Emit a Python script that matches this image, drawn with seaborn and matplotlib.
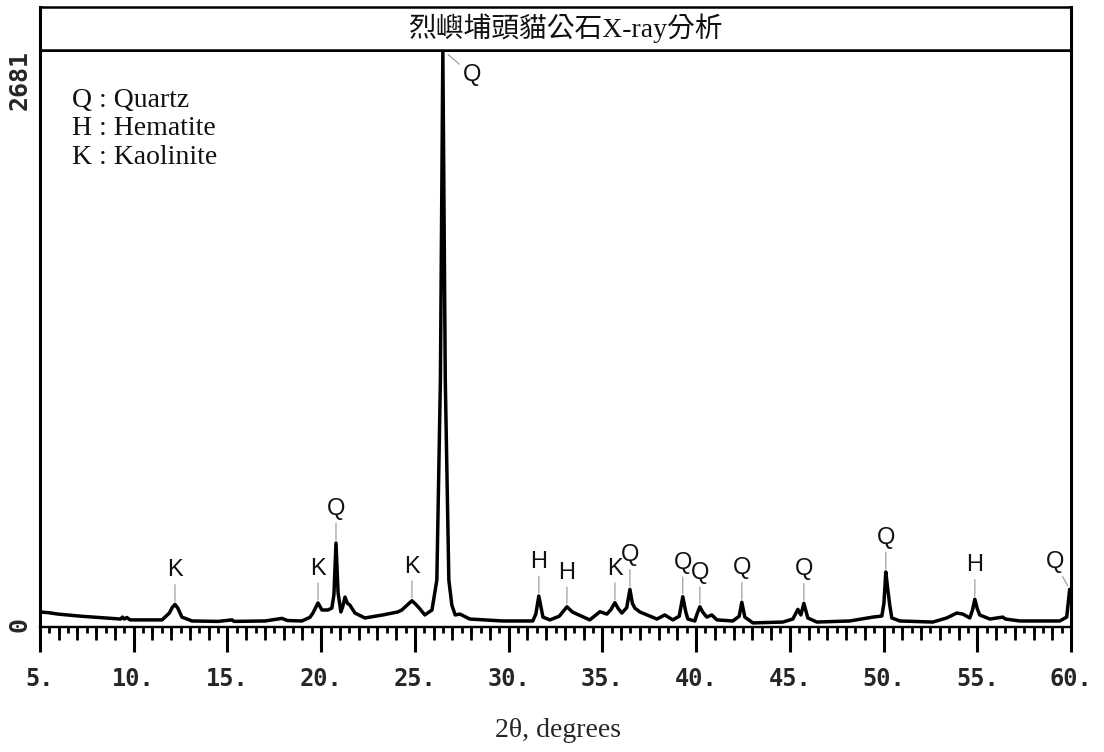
import numpy as np
import pandas as pd
import matplotlib
matplotlib.use('Agg')
import matplotlib.pyplot as plt
from matplotlib.ticker import MultipleLocator
import seaborn as sns

# ---------------- data ----------------
title = '烈嶼埔頭貓公石X-ray分析'
x_label = '2θ, degrees'
y_max = 2681

two_theta = [5.00, 5.50, 5.96, 7.20, 8.50, 9.30, 9.40, 9.50, 9.64, 9.80,
             11.00, 11.51, 11.90, 12.05, 12.20, 12.35, 12.57, 13.11, 14.50, 15.24,
             15.35, 17.00, 17.91, 18.20, 18.97, 19.40, 19.56, 19.83, 20.04, 20.36,
             20.57, 20.68, 20.79, 20.90, 21.05, 21.15, 21.27, 21.40, 21.53, 21.80,
             22.33, 23.29, 24.09, 24.30, 24.84, 25.05, 25.27, 25.53, 25.91, 26.17,
             26.36, 26.49, 26.62, 26.81, 26.97, 27.15, 27.40, 27.93, 29.69, 31.29,
             31.45, 31.61, 31.75, 31.83, 32.20, 32.70, 33.11, 33.40, 33.64, 34.33,
             34.87, 35.24, 35.45, 35.67, 35.85, 36.04, 36.30, 36.47, 36.60, 36.73,
             37.00, 37.53, 37.91, 38.33, 38.76, 39.10, 39.29, 39.45, 39.56, 39.93,
             40.05, 40.20, 40.35, 40.57, 40.84, 41.11, 41.96, 42.30, 42.44, 42.60,
             43.03, 44.63, 45.16, 45.43, 45.59, 45.75, 45.96, 46.44, 48.20, 49.43,
             49.91, 50.02, 50.12, 50.23, 50.33, 50.44, 50.87, 52.63, 53.37, 53.91,
             54.23, 54.60, 54.75, 54.87, 55.00, 55.13, 55.67, 56.36, 56.50, 57.27,
             59.40, 59.77, 59.93]
intensity = [70, 66, 60, 50, 42, 37, 46, 37, 44, 33,
             33, 33, 65, 90, 105, 88, 46, 28, 26, 33,
             26, 28, 40, 30, 28, 45, 65, 112, 79, 79,
             88, 150, 390, 160, 70, 95, 139, 110, 102, 65,
             42, 56, 70, 79, 122, 105, 84, 56, 79, 218,
             1150, 2681, 1150, 218, 102, 56, 60, 37, 28, 28,
             60, 144, 80, 46, 33, 50, 94, 70, 60, 33,
             71, 60, 80, 113, 85, 65, 90, 175, 110, 88,
             70, 51, 37, 56, 33, 50, 141, 70, 37, 28,
             60, 94, 70, 46, 56, 33, 28, 50, 115, 46,
             19, 23, 37, 82, 56, 110, 42, 23, 28, 46,
             51, 110, 256, 172, 102, 42, 28, 23, 42, 65,
             60, 42, 80, 129, 85, 56, 37, 46, 37, 28,
             28, 46, 175]

x_ticks = [5, 10, 15, 20, 25, 30, 35, 40, 45, 50, 55, 60]
x_tick_labels = ['5.', '10.', '15.', '20.', '25.', '30.', '35.', '40.',
                 '45.', '50.', '55.', '60.']

peak_pos = [12.20, 19.83, 20.79, 24.84, 26.49, 31.61, 33.11, 35.67,
            36.47, 39.29, 40.20, 42.44, 45.75, 50.12, 54.87, 59.93]
peak_phase = ['K', 'K', 'Q', 'K', 'Q', 'H', 'H', 'K',
              'Q', 'Q', 'Q', 'Q', 'Q', 'Q', 'H', 'Q']

legend_codes = ['Q', 'H', 'K']
legend_names = ['Quartz', 'Hematite', 'Kaolinite']

# ---------------- style ----------------
sns.set_style('white')
plt.rcParams['font.family'] = ['Liberation Serif', 'Noto Sans CJK TC', 'DejaVu Sans']

W, H = 1104, 752
fig = plt.figure(figsize=(W / 100, H / 100), dpi=100)
ax = fig.add_axes([40 / W, 125 / H, 1031 / W, 577 / H])

df = pd.DataFrame({'two_theta': two_theta, 'intensity': intensity})
sns.lineplot(data=df, x='two_theta', y='intensity', ax=ax, color='black',
             linewidth=2.5, solid_joinstyle='round', solid_capstyle='round')
ax.set_xlim(5, 60)
ax.set_ylim(0, y_max)

for side, s in ax.spines.items():
    s.set_visible(True)
    s.set_color('black')
ax.spines['left'].set_linewidth(2.2)
ax.spines['right'].set_linewidth(2.2)
ax.spines['top'].set_linewidth(2.0)
ax.spines['bottom'].set_linewidth(1.6)

# x ticks: long at 5s, medium at integers, short at halves
ax.set_xticks(x_ticks, labels=x_tick_labels)
ax.xaxis.set_minor_locator(MultipleLocator(0.5))
ax.tick_params(axis='x', which='major', direction='out', length=18, width=2.2,
               pad=11, labelsize=17, bottom=True, color='black')
ax.tick_params(axis='x', which='minor', direction='out', length=4.5, width=2.0,
               bottom=True, color='black')
for lab in ax.get_xticklabels():
    lab.set_fontfamily('DejaVu Sans Mono')
    lab.set_fontweight('bold')

sec = ax.secondary_xaxis('bottom')
sec.xaxis.set_major_locator(MultipleLocator(1))
sec.tick_params(axis='x', which='major', direction='out', length=9, width=2.0,
                labelbottom=False, bottom=True, color='black')
sec.spines['bottom'].set_linewidth(1.6)

# y ticks: only 0 and max, rotated
ax.set_yticks([0, y_max], labels=['0', str(y_max)])
ax.tick_params(axis='y', length=0, pad=6, labelsize=18, labelrotation=90, left=True)
ylabs = ax.get_yticklabels()
for lab in ylabs:
    lab.set_fontfamily('DejaVu Sans Mono')
    lab.set_fontweight('bold')
ylabs[1].set_va('top')

ax.set_xlabel(x_label, fontsize=20, family='Liberation Serif')
ax.xaxis.set_label_coords(0.502, -0.180)
ax.xaxis.label.set_va('center')
ax.set_ylabel('')

# legend of phases
for i, (c, n) in enumerate(zip(legend_codes, legend_names)):
    ax.text(0.031, 0.913 - i * 0.0494, f'{c} : {n}', transform=ax.transAxes,
            ha='left', va='center', fontsize=20, family='Liberation Serif',
            color='#111111')

# peak labels
peak_int = np.interp(peak_pos, two_theta, intensity)
for pos, inten, ph in zip(peak_pos, peak_int, peak_phase):
    if inten >= y_max:
        off, shB = (29, -25), 5
    elif pos > 59.5:
        off, shB = (-15, 27), 3
    else:
        off, shB = (0, 34), 2.2
    ax.annotate(ph, xy=(pos, min(inten, y_max)), xytext=off,
                textcoords='offset pixels', ha='center', va='center',
                fontsize=17, family='Liberation Sans', color='#111111',
                annotation_clip=False,
                arrowprops=dict(arrowstyle='-', color='#a0a0a0', lw=0.9,
                                shrinkA=0, shrinkB=shB))

# title bar
tax = fig.add_axes([40 / W, 702 / H, 1031 / W, 43 / H])
tax.set_xticks([])
tax.set_yticks([])
for side, s in tax.spines.items():
    s.set_visible(True)
    s.set_color('black')
    s.set_linewidth(1.8)
tax.spines['left'].set_linewidth(2.2)
tax.spines['right'].set_linewidth(2.2)
tax.text(0.51, 0.5, title, ha='center', va='center', fontsize=20,
         family=['Liberation Serif', 'Noto Sans CJK TC'], color='#111111')

fig.savefig('out.png', dpi=100)
